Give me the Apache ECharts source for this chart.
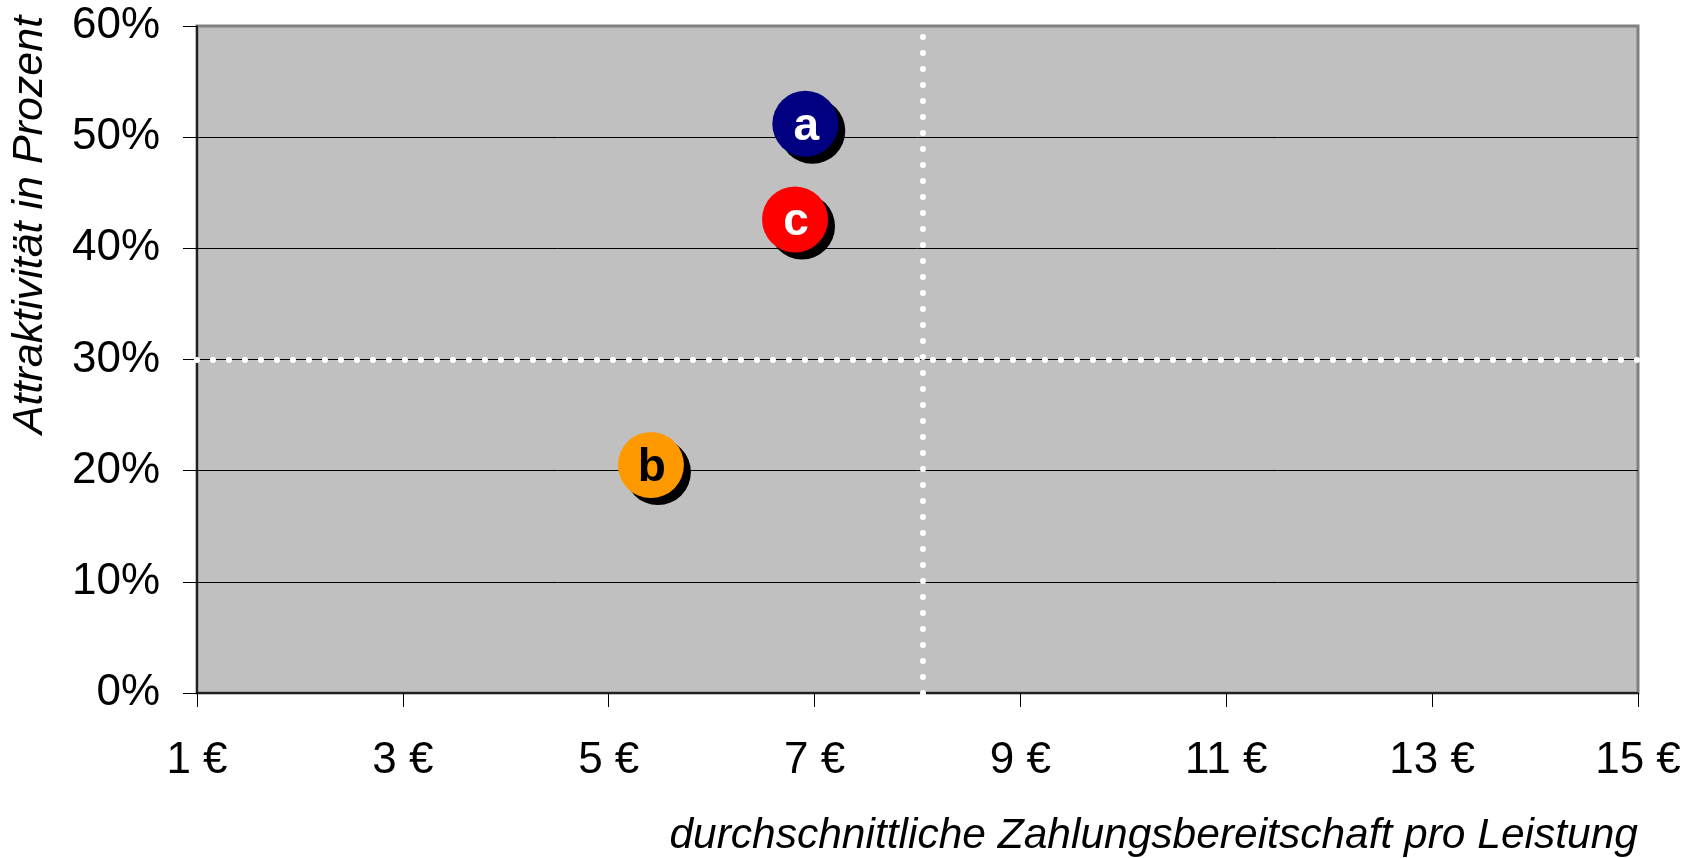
<!DOCTYPE html>
<html>
<head>
<meta charset="utf-8">
<script src="https://cdn.jsdelivr.net/npm/echarts@6/dist/echarts.min.js"></script>
<style>
html,body{margin:0;padding:0;background:#fff;}
#chart{width:1706px;height:858px;}
</style>
</head>
<body>
<div id="chart"></div>
<script>
// ---- data ----
const pointNames = ['a', 'b', 'c'];
const priceValues = [6.91, 5.41, 6.81];          // € (x)
const attractivenessValues = [51.2, 20.5, 42.6]; // % (y)
const pointColors = ['#000080', '#FF9900', '#FF0000'];
const labelColors = ['#FFFFFF', '#000000', '#FFFFFF'];
const avgPrice = 8.05;
const avgAttractiveness = 30;
const xTitle = 'durchschnittliche Zahlungsbereitschaft pro Leistung';
const yTitle = 'Attraktivität in Prozent';

const FONT = 'Liberation Sans, Arial, sans-serif';

const chart = echarts.init(document.getElementById('chart'), null, {renderer: 'canvas'});

const seriesData = pointNames.map((n, i) => ({
  name: n,
  value: [priceValues[i], attractivenessValues[i]],
  itemStyle: {color: pointColors[i]},
  label: {color: labelColors[i]}
}));

const dotLine = {color: '#FFFFFF', width: 6, type: [0, 16], cap: 'round', opacity: 1};

chart.setOption({
  animation: false,
  backgroundColor: '#FFFFFF',
  grid: {
    left: 197, top: 26, right: 68, bottom: 165,
    show: true, backgroundColor: '#C0C0C0', borderColor: '#808080', borderWidth: 3
  },
  xAxis: {
    type: 'value', min: 1, max: 15, interval: 2,
    axisLine: {show: true, onZero: false, lineStyle: {color: '#000', width: 1.5}},
    axisTick: {show: true, length: 14, inside: false, lineStyle: {color: '#000', width: 1}},
    axisLabel: {fontFamily: FONT, fontSize: 44, color: '#000', margin: 46,
      formatter: v => v + ' €'},
    splitLine: {show: false}
  },
  yAxis: {
    type: 'value', min: 0, max: 60, interval: 10,
    axisLine: {show: true, onZero: false, lineStyle: {color: '#000', width: 1.5}},
    axisTick: {show: true, length: 14, inside: false, lineStyle: {color: '#000', width: 1}},
    axisLabel: {fontFamily: FONT, fontSize: 44, color: '#000', margin: 37,
      padding: [6, 0, 0, 0],
      formatter: v => v + '%'},
    splitLine: {show: true, showMinLine: false, showMaxLine: false, lineStyle: {color: '#000', width: 1}}
  },
  graphic: [
    {type: 'text', x: 30, y: 225, rotation: Math.PI / 2,
      style: {text: yTitle, fontFamily: FONT, fontSize: 43, fontStyle: 'italic',
        fill: '#000', align: 'center', verticalAlign: 'middle'}},
    {type: 'text', x: 1638, y: 836,
      style: {text: xTitle, fontFamily: FONT, fontSize: 42.5, fontStyle: 'italic',
        fill: '#000', align: 'right', verticalAlign: 'middle'}}
  ],
  series: [{
    type: 'scatter',
    symbol: 'circle',
    symbolSize: 66,
    data: seriesData,
    itemStyle: {shadowColor: '#000', shadowBlur: 0, shadowOffsetX: 7, shadowOffsetY: 7, opacity: 1},
    label: {show: true, position: 'inside', formatter: p => p.name, offset: [1, 3],
      fontFamily: FONT, fontSize: 46, fontWeight: 'bold'},
    emphasis: {disabled: true},
    markLine: {
      silent: true, symbol: 'none', animation: false,
      label: {show: false},
      lineStyle: dotLine,
      emphasis: {disabled: true},
      data: [{xAxis: avgPrice}, {yAxis: avgAttractiveness}]
    },
    z: 3
  }]
});
</script>
</body>
</html>
